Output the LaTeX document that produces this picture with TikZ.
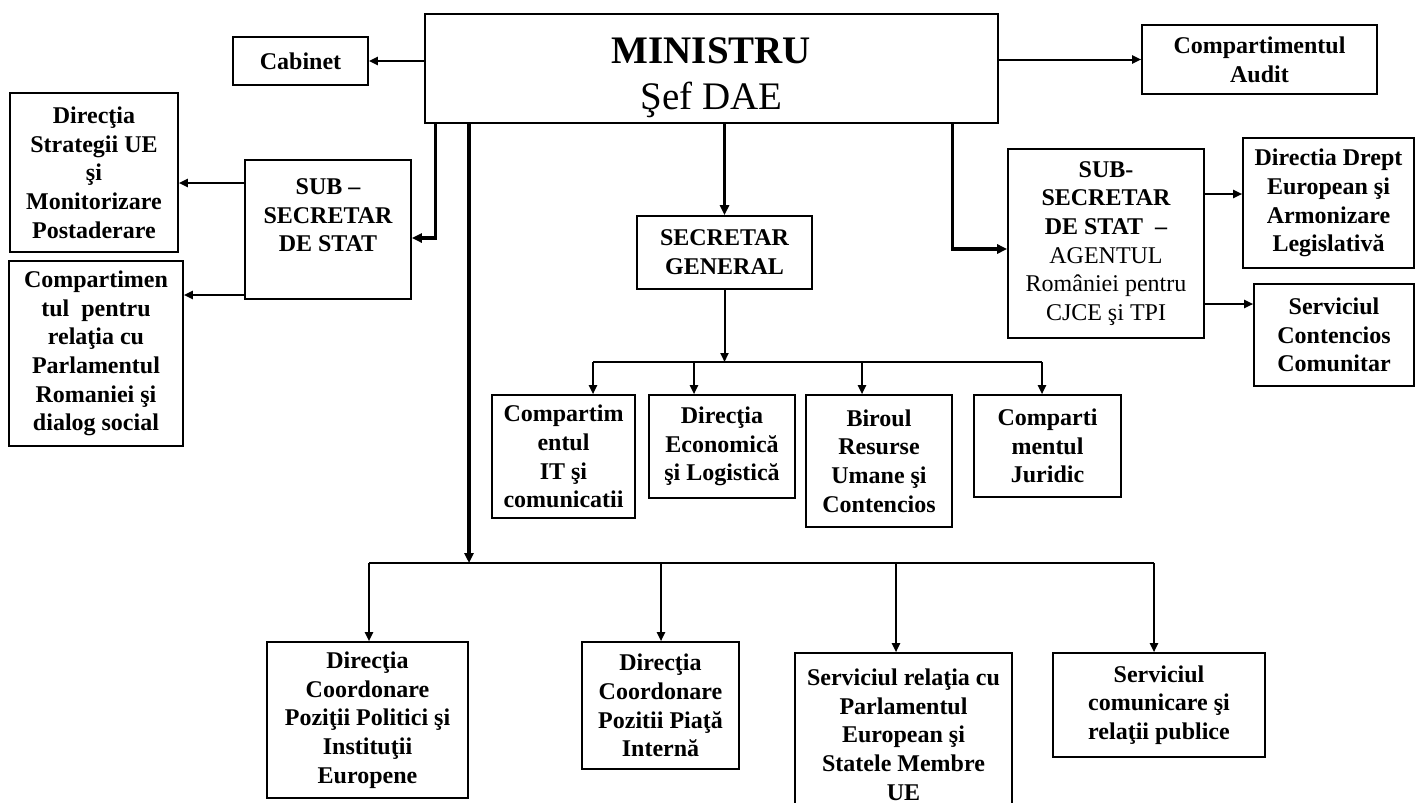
\documentclass[tikz,border=0pt]{standalone}
\usepackage{fontspec}
\setmainfont{Liberation Serif}
\usetikzlibrary{arrows.meta}

\begin{document}
\begin{tikzpicture}[x=1pt,y=-1pt,
  box/.style={draw,line width=1.6pt,inner sep=0pt,align=center,
    font=\fontsize{24}{28.7}\selectfont\bfseries},
  link/.style={line width=2pt,-{Triangle[length=9pt,width=8pt]}},
  trunk/.style={line width=3.2pt,-{Triangle[length=10pt,width=9pt]}}]
\useasboundingbox (0,0) rectangle (1416,803);

% top row
\node[box,minimum width=573pt,minimum height=109pt,
  font=\fontsize{39}{46}\selectfont\bfseries] (min) at (711.5,68.5) {\rule{0pt}{45pt}MINISTRU\\\mdseries Şef DAE};
\node[box,minimum width=135pt,minimum height=48pt] (cab) at (300.5,61) {Cabinet};
\node[box,minimum width=235pt,minimum height=69pt] (audit) at (1259.5,59.5) {Compartimentul\\Audit};

% left branch
\node[box,minimum width=166pt,minimum height=139pt] (subl) at (328,229.5) {SUB --\\SECRETAR\\DE STAT\\~};
\node[box,minimum width=168pt,minimum height=159pt] (strat) at (94,172.5) {Direcţia\\Strategii UE\\şi\\Monitorizare\\Postaderare};
\node[box,minimum width=174pt,minimum height=185pt] (parl) at (96,353.5) {Compartimen\\tul~ pentru\\relaţia cu\\Parlamentul\\Romaniei şi\\dialog social};

% right branch
\node[box,minimum width=196pt,minimum height=189pt] (subr) at (1106,243.5) {SUB-\\SECRETAR\\DE STAT~ --\\\mdseries AGENTUL\\\mdseries României pentru\\\mdseries CJCE şi TPI};
\node[box,minimum width=171pt,minimum height=130pt] (drept) at (1328.5,203) {Directia Drept\\European şi\\Armonizare\\Legislativă};
\node[box,minimum width=160pt,minimum height=102pt] (cont) at (1334,335) {Serviciul\\Contencios\\Comunitar};

% secretar general and his boxes
\node[box,minimum width=175pt,minimum height=73pt] (sg) at (724.5,252.5) {SECRETAR\\GENERAL};
\node[box,minimum width=143pt,minimum height=123pt] (it) at (563.5,456.5) {Compartim\\entul\\IT şi\\comunicatii};
\node[box,minimum width=146pt,minimum height=103pt] (eco) at (722,446.5) {Direcţia\\Economică\\şi Logistică};
\node[box,minimum width=146pt,minimum height=132pt] (bir) at (879,461) {Biroul\\Resurse\\Umane şi\\Contencios};
\node[box,minimum width=147pt,minimum height=102pt] (jur) at (1047.5,446) {Comparti\\mentul\\Juridic};

% bottom row
\node[box,minimum width=201pt,minimum height=156pt] (dcp) at (367.5,720) {Direcţia\\Coordonare\\Poziţii Politici şi\\Instituţii\\Europene};
\node[box,minimum width=157pt,minimum height=127pt] (dcpi) at (660.5,705.5) {Direcţia\\Coordonare\\Pozitii Piaţă\\Internă};
\node[box,minimum width=217pt,minimum height=163pt] (srp) at (903.5,734.5) {Serviciul relaţia cu\\Parlamentul\\European şi\\Statele Membre\\UE};
\node[box,minimum width=212pt,minimum height=104pt] (scp) at (1159,705) {Serviciul\\comunicare şi\\relaţii publice};

\coordinate (sgbus) at (724.5,362);
\coordinate (hub) at (469,563);

% from the minister
\draw[link] (min.west |- cab.east) -- (cab.east);
\draw[link] (min.east |- audit.west) -- (audit.west);
\draw[trunk] ([xshift=11pt]min.south west) |- ([yshift=-8.5pt]subl.east);
\draw[trunk] ([xshift=-46.5pt]min.south east) |- ([yshift=-5.5pt]subr.west);
\draw[trunk] (min.south -| sg.north) -- (sg.north);
\draw[trunk] (min.south -| hub) -- (hub);

% sub-secretaries
\draw[link] ([yshift=46.5pt]subl.west) -- ([yshift=-10.5pt]strat.east);
\draw[link] ([yshift=-65.5pt]subl.west) -- ([yshift=58.5pt]parl.east);
\draw[link] ([yshift=49.5pt]subr.east) -- ([yshift=9pt]drept.west);
\draw[link] ([yshift=-60.5pt]subr.east) -- ([yshift=31pt]cont.west);

% secretar general
\draw[link] (sg.south) -- (sgbus);
\draw[line width=2pt] ([xshift=29.5pt]it.north |- sgbus) -- ([xshift=-5.5pt]jur.north |- sgbus);
\foreach \n/\s in {it/29.5,eco/-28,bir/-17,jur/-5.5}
  \draw[link] ([xshift=\s pt]\n.north |- sgbus) -- ([xshift=\s pt]\n.north);

% bottom bus
\draw[line width=2.6pt] ([xshift=1.5pt]dcp.north |- hub) -- ([xshift=-5pt]scp.north |- hub);
\foreach \n/\s in {dcp/1.5,dcpi/0.5,srp/-7.5,scp/-5}
  \draw[link] ([xshift=\s pt]\n.north |- hub) -- ([xshift=\s pt]\n.north);

\end{tikzpicture}
\end{document}
